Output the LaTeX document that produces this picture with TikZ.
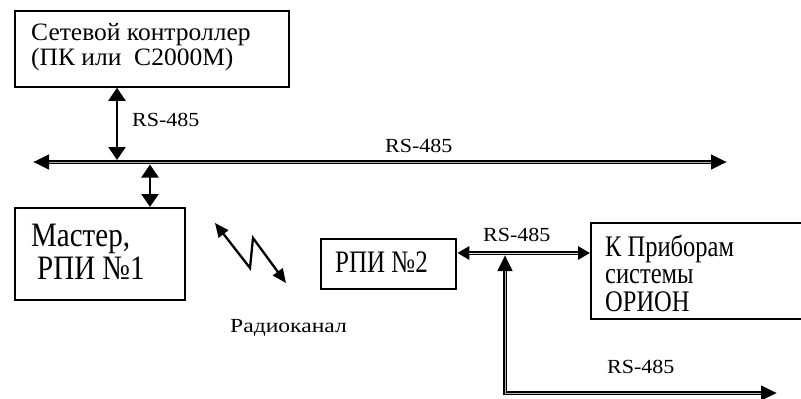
\documentclass[tikz,border=0pt]{standalone}
\usepackage{fontspec}
\setmainfont{Liberation Serif}
\usetikzlibrary{arrows.meta}
\begin{document}
\begin{tikzpicture}[x=1pt,y=-1pt,
  box/.style={draw,line width=2.3pt,rectangle,inner sep=0pt,anchor=north west},
  txt/.style={anchor=base west,inner sep=0pt},
  arr/.style={line width=2.3pt,{Triangle[length=13pt,width=17pt]}-{Triangle[length=13pt,width=17pt]}},
  radio/.style={line width=2.3pt,line join=miter,{Triangle[length=14pt,width=12pt]}-{Triangle[length=14pt,width=12pt]}},
  bus/.style={line width=4.5pt,{Triangle[length=16pt,width=14pt]}-{Triangle[length=16pt,width=14pt]}},
  busin/.style={line width=0.8pt,gray!60,shorten <=16pt,shorten >=16pt},
  midbus/.style={line width=4pt,{Triangle[length=12pt,width=13pt]}-{Triangle[length=12pt,width=13pt]}},
  midin/.style={line width=1pt,gray!25,shorten <=12pt,shorten >=12pt},
  lab/.style={anchor=base west,inner sep=0pt,font=\fontsize{20}{24}\selectfont}]
\useasboundingbox (0,0) rectangle (801,399);
% boxes
\node[box,minimum width=274pt,minimum height=76pt] (ctrl) at (14,9.5) {};
\node[box,minimum width=170pt,minimum height=92pt] (master) at (14,207) {};
\node[box,minimum width=135pt,minimum height=50pt] (rpi) at (320,238) {};
\node[box,minimum width=215pt,minimum height=96pt] (kbox) at (590,222) {};
% texts
\node[txt,font=\fontsize{25}{28}\selectfont] (t1) at (31,40) {\scalebox{1.02}[1]{Сетевой контроллер}};
\node[txt,font=\fontsize{25}{28}\selectfont] (t2) at (31,65) {\scalebox{1.02}[1]{(ПК или\ \ С2000М)}};
\node[txt,font=\fontsize{29}{33}\selectfont] (m1) at (31,246) {\scalebox{1}[1.18]{Мастер,}};
\node[txt,font=\fontsize{29}{33}\selectfont] (m2) at (37,279) {\scalebox{1}[1.18]{РПИ №1}};
\node[txt,font=\fontsize{25}{30}\selectfont] (r1) at (335,272) {\scalebox{1}[1.25]{РПИ №2}};
\node[txt,font=\fontsize{24.5}{30}\selectfont] (k1) at (605,256) {\scalebox{1}[1.22]{К Приборам}};
\node[txt,font=\fontsize{24.5}{30}\selectfont] (k2) at (605,283) {\scalebox{1}[1.22]{системы}};
\node[txt,font=\fontsize{24.5}{30}\selectfont] (k3) at (605,311) {\scalebox{1}[1.22]{ОРИОН}};
% bus
\coordinate (busL) at (33,162);
\coordinate (busR) at (727,162);
\draw[bus] (busL) -- (busR);
\draw[busin] (busL) -- (busR);
\coordinate (a1) at (117,160);
\coordinate (a2) at (150,164.5);
\draw[arr] (ctrl.south -| a1) -- (a1);
\draw[arr] (a2) -- (master.north -| a2);
\node[lab] (l1) at (132,126) {\scalebox{1.1}[1]{RS-485}};
\node[lab] (l2) at (385,152) {\scalebox{1.1}[1]{RS-485}};
% radio
\coordinate (z1) at (215,223);
\coordinate (z2) at (250,268);
\coordinate (z3) at (253,238);
\coordinate (z4) at (286,283);
\draw[radio] (z1) -- (z2) -- (z3) -- (z4);
\node[lab] (rad) at (230,332) {\scalebox{1.18}[1]{Радиоканал}};
% right side
\coordinate (j) at (505,253);
\coordinate (jt) at (505,255);
\coordinate (c) at (505,393);
\coordinate (e) at (777,393);
\draw[midbus] (rpi.east |- j) -- (kbox.west |- j);
\draw[midin] (rpi.east |- j) -- (kbox.west |- j);
\node[lab] (l3) at (483,241) {\scalebox{1.1}[1]{RS-485}};
\draw[bus,line join=miter] (jt) -- (c) -- (e);
\draw[busin,line join=miter] (jt) -- (c) -- (e);
\node[lab] (l4) at (607,373) {\scalebox{1.1}[1]{RS-485}};
\end{tikzpicture}
\end{document}
